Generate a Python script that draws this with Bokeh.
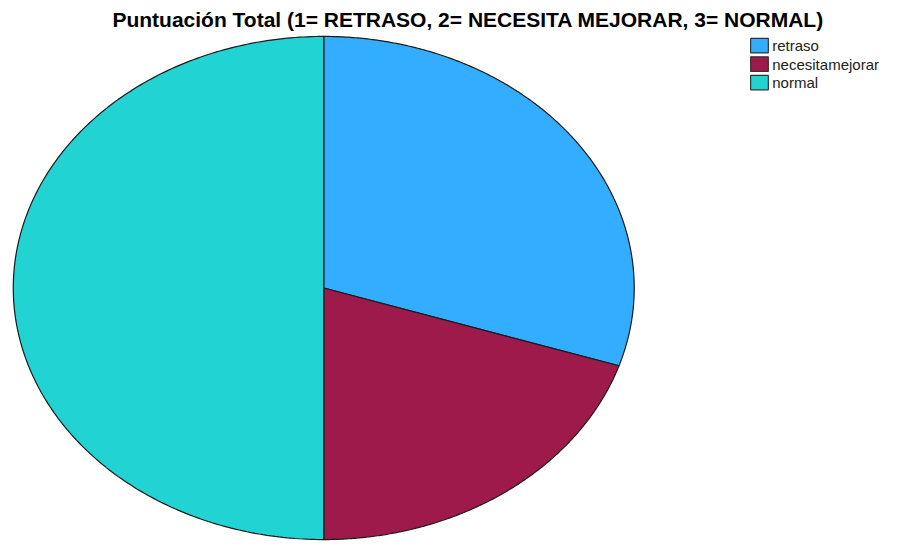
import numpy as np
from bokeh.plotting import figure
from bokeh.models import Range1d, ColumnDataSource
from bokeh.core.properties import value
from bokeh.embed import file_html
from bokeh.resources import INLINE

title = "Puntuación Total (1= RETRASO, 2= NECESITA MEJORAR, 3= NORMAL)"
categories = ["retraso", "necesitamejorar", "normal"]
percentages = [30.0, 20.0, 50.0]
colors = ["#33adff", "#9e1a4a", "#22d3d3"]

# layout coordinate system: reference picture pixels (915 x 557)
RW, RH = 915, 557
p = figure(width=899, height=541, output_backend="svg", toolbar_location=None,
           x_range=Range1d(0, RW), y_range=Range1d(RH, 0), min_border=0)
p.axis.visible = False
p.grid.visible = False
p.outline_line_color = None
p.background_fill_color = "white"
p.border_fill_color = "white"

# ellipse pie geometry
cx, cy, rx, ry = 329, 296, 316, 259
vals = np.array(percentages)
ends = np.cumsum(vals) / vals.sum() * 2 * np.pi
starts = np.concatenate([[0], ends[:-1]])
xs, ys = [], []
for s, e in zip(starts, ends):
    t = np.linspace(s, e, 240)
    xs.append(np.concatenate([[cx], cx + rx * np.sin(t)]).tolist())
    ys.append(np.concatenate([[cy], cy - ry * np.cos(t)]).tolist())
p.patches(xs, ys, fill_color=colors, line_color="#1a1a1a", line_width=1.2)

# title
p.text(x=[476], y=[20], text=[title], text_align="center", text_baseline="middle",
       text_font=value("Liberation Sans"), text_font_style="bold",
       text_font_size="21px", text_color="black")

# legend
lx, ly0, dy = 772.5, 46.5, 19
ly = [ly0 + i * dy for i in range(len(categories))]
src = ColumnDataSource(dict(x=[lx] * len(categories), y=ly, c=colors,
                            tx=[lx + 13] * len(categories), label=categories))
p.rect(x="x", y="y", width=18, height=15, fill_color="c", line_color="#333333",
       line_width=1.2, source=src)
p.text(x="tx", y="y", text="label", text_baseline="middle", text_align="left",
       text_font=value("Liberation Sans"), text_font_size="15px", text_color="#222222",
       source=src)

open("out.html", "w").write(file_html(p, INLINE))
